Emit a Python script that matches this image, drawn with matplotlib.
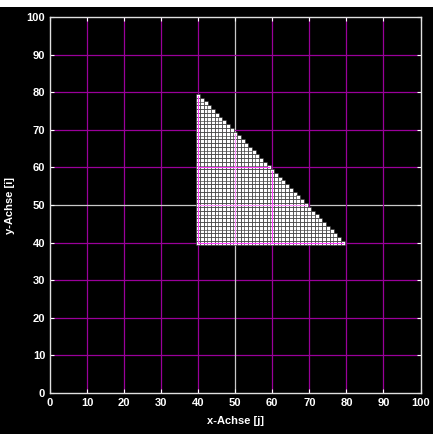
import matplotlib
matplotlib.use("Agg")
import matplotlib.pyplot as plt
import numpy as np

# Spalten des Dreiecks: x-Wert und oberster y-Wert je Spalte
col_x = [40, 41, 42, 43, 44, 45, 46, 47, 48, 49,
         50, 51, 52, 53, 54, 55, 56, 57, 58, 59,
         60, 61, 62, 63, 64, 65, 66, 67, 68, 69,
         70, 71, 72, 73, 74, 75, 76, 77, 78, 79]
col_top = [79, 78, 77, 76, 75, 74, 73, 72, 71, 70,
           69, 68, 67, 66, 65, 64, 63, 62, 61, 60,
           59, 58, 57, 56, 55, 54, 53, 52, 51, 50,
           49, 48, 47, 46, 45, 44, 43, 42, 41, 40]
y_bottom = 40

ticks = [0, 10, 20, 30, 40, 50, 60, 70, 80, 90, 100]

plt.rcParams['font.family'] = ['Liberation Sans', 'DejaVu Sans']
plt.rcParams['font.weight'] = 'bold'

fig = plt.figure(figsize=(4.33, 4.34), dpi=100)
fig.patch.set_facecolor('black')
# schmaler weisser Rand oben
fig.patches.append(plt.Rectangle((0, 1 - 7 / 434), 1, 7 / 434, transform=fig.transFigure,
                                 facecolor='white', edgecolor='none'))

ax = fig.add_axes([50 / 433, 41 / 434, 370.5 / 433, 376 / 434])
ax.set_facecolor('black')

# Gitter
for t in ticks[1:-1]:
    c = '#c8c8c8' if t == 50 else '#9a009a'
    ax.axvline(t, color=c, lw=0.9, zorder=1)
    ax.axhline(t, color=c, lw=0.9, zorder=1)

# Punkte
px, py = [], []
for x, top in zip(col_x, col_top):
    for y in range(y_bottom, top + 1):
        px.append(x)
        py.append(y)
ax.scatter(px, py, marker='s', s=2.7 ** 2, c='white', linewidths=0.4,
           edgecolors='#202020', zorder=2)

# Gitterlinien über den Punkten in hellerem Magenta
for t in [40, 60]:
    ax.plot([t, t], [40, 119 - t], color='#ff40ff', lw=0.8, zorder=3)
    ax.plot([40, 119 - t], [t, t], color='#ff40ff', lw=0.8, zorder=3)
ax.plot([50, 50], [40, 69], color='#ff90ff', lw=0.8, zorder=3)
ax.plot([40, 69], [50, 50], color='#ff90ff', lw=0.8, zorder=3)

ax.set_xlim(0, 100)
ax.set_ylim(0, 100)
ax.set_xticks(ticks)
ax.set_yticks(ticks)
ax.tick_params(colors='white', labelcolor='white', labelsize=8, direction='in',
               length=3, width=0.8, top=True, right=True)
for s in ax.spines.values():
    s.set_color('#e0e0e0')
    s.set_linewidth(1.0)

ax.set_xlabel('x-Achse [j]', color='white', fontsize=8, fontweight='bold', labelpad=6)
ax.set_ylabel('y-Achse [i]', color='white', fontsize=8, fontweight='bold', labelpad=8)

fig.savefig('out.png', dpi=100, facecolor=fig.get_facecolor())
